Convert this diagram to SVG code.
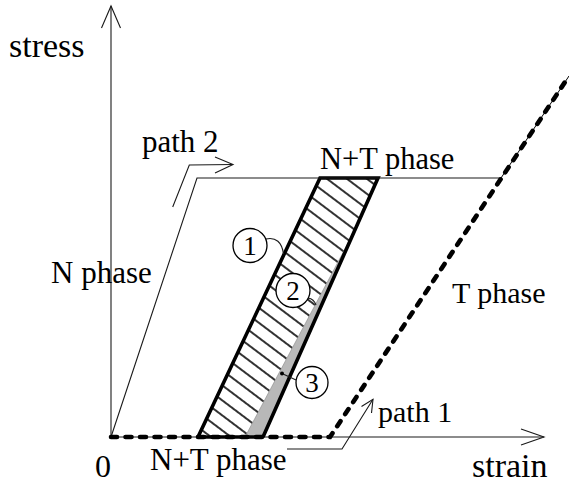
<svg xmlns="http://www.w3.org/2000/svg" width="569" height="485" viewBox="0 0 569 485">
<style>
.t{font-family:"Liberation Serif","Times New Roman",serif;fill:#000}
.thin{fill:none;stroke:#1a1a1a;stroke-width:1.1}
.thick{fill:none;stroke:#000;stroke-width:3.6;stroke-linejoin:miter}
.dash{fill:none;stroke:#000;stroke-width:4.6;stroke-linecap:round;stroke-dasharray:6 8.5}
.circ{fill:#fff;stroke:#000;stroke-width:1.3}
.num{font-family:"Liberation Serif","Times New Roman",serif;font-size:27px;fill:#000;text-anchor:middle}
</style>
<defs>
<pattern id="hatch" patternUnits="userSpaceOnUse" width="20" height="12" patternTransform="rotate(37)">
<line x1="0" y1="6" x2="20" y2="6" stroke="#000" stroke-width="1.6"/>
</pattern>
<clipPath id="hclip"><polygon points="320,178 378,178 355,230 245,437 198,437"/></clipPath>
</defs>
<rect width="569" height="485" fill="#fff"/>

<g id="axes">
<line class="thin" x1="111" y1="437" x2="111" y2="6"/>
<polyline class="thin" points="101.5,28 111,6 120.5,28"/>
<line class="thin" x1="111" y1="437" x2="544" y2="437"/>
<polyline class="thin" points="521,429 544,437 521,445"/>
</g>

<g id="region">
<rect x="190" y="170" width="200" height="275" fill="url(#hatch)" clip-path="url(#hclip)"/>
<polygon points="355,230 263,437 245,437" fill="#b8b8b8" stroke="#888" stroke-width="0.6"/>
<polyline class="thick" points="198,437 320,178 378,178 263,437"/>
<line x1="198" y1="437" x2="263" y2="437" stroke="#000" stroke-width="3.6"/>
</g>

<g id="curves">
<polyline class="thin" points="111,437 197,178 501,178"/>
<line x1="501" y1="178" x2="569" y2="76" stroke="#000" stroke-width="1"/>
<polyline class="dash" points="111,437 330,437 569,76"/>
</g>

<g id="path2">
<polyline class="thin" points="172.7,207 189.3,165 233,164.5"/>
<polyline class="thin" points="215,157 233,164.5 215,173"/>
</g>

<g id="path1">
<polyline class="thin" points="287,449 342,449 373,399.3"/>
<polyline class="thin" points="361.5,406.5 373,399.3 371.5,413"/>
</g>

<g id="marker1">
<path class="thin" d="M266,239 Q281,236 283.5,254"/>
<circle class="circ" cx="250" cy="245.5" r="17"/>
<text class="num" x="250" y="255">1</text>
</g>
<g id="marker2">
<path class="thin" d="M308,298 Q314,299 316,305"/>
<circle class="circ" cx="293" cy="290.5" r="17"/>
<text class="num" x="293" y="300">2</text>
</g>
<g id="marker3">
<line class="thin" x1="282" y1="373.5" x2="296" y2="380"/>
<circle cx="282" cy="373.5" r="2" fill="#000"/>
<circle class="circ" cx="312" cy="382.5" r="16"/>
<text class="num" x="312" y="392">3</text>
</g>

<g id="labels">
<text class="t" x="9" y="57" font-size="34">stress</text>
<text class="t" x="142" y="152" font-size="31">path 2</text>
<text class="t" x="320" y="169" font-size="30.5">N+T phase</text>
<text class="t" x="51" y="283" font-size="31">N phase</text>
<text class="t" x="452" y="303" font-size="30">T phase</text>
<text class="t" x="378" y="422" font-size="30">path 1</text>
<text class="t" x="95" y="477" font-size="32">0</text>
<text class="t" x="150" y="470" font-size="31">N+T phase</text>
<text class="t" x="472" y="477" font-size="34">strain</text>
</g>
</svg>
